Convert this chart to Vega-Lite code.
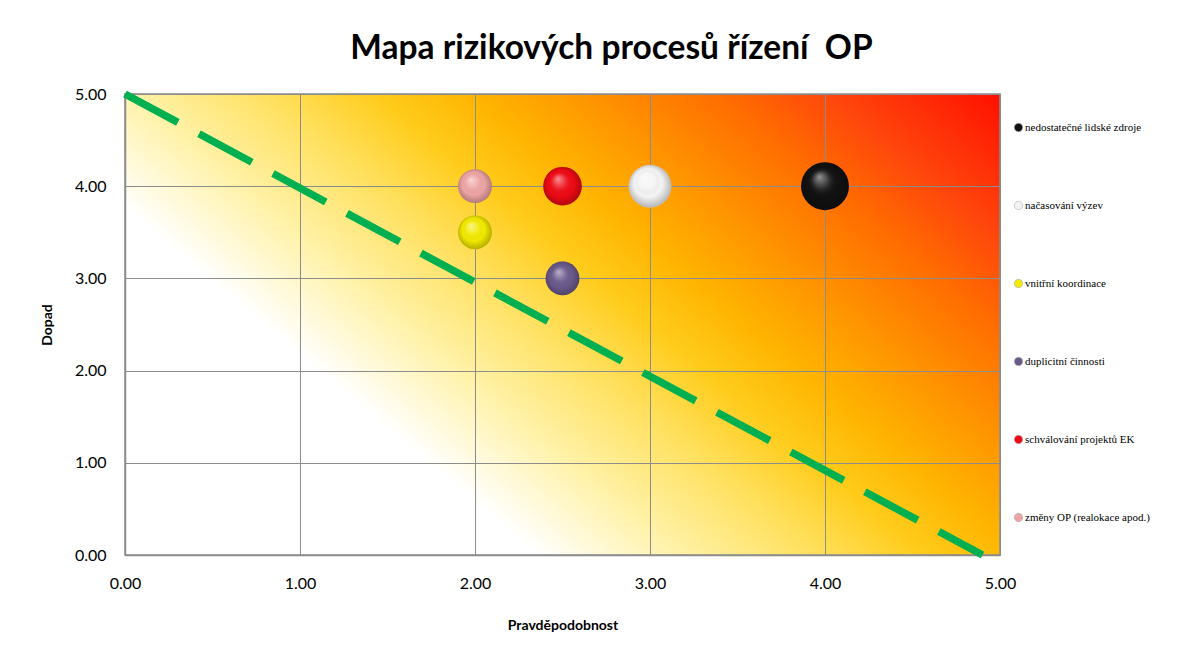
{
  "$schema": "https://vega.github.io/schema/vega-lite/v6.json",
  "width": 875,
  "height": 461,
  "padding": {"left": 40, "top": 31, "right": 0, "bottom": 0},
  "background": "white",
  "title": {
    "text": "Mapa rizikových procesů řízení\u00a0\u00a0OP",
    "font": "Lato",
    "fontSize": 33.5,
    "fontWeight": "bold",
    "color": "#000000",
    "anchor": "middle",
    "dx": 49,
    "offset": 13
  },
  "view": {
    "stroke": "#8c8c8c",
    "strokeWidth": 1.5,
    "fill": {
      "gradient": "linear",
      "x1": 0, "y1": 1, "x2": 1.168, "y2": 0.267,
      "stops": [
        {"offset": 0, "color": "#ffffff"},
        {"offset": 0.29, "color": "#ffffff"},
        {"offset": 0.39, "color": "#fff2a8"},
        {"offset": 0.49, "color": "#ffdf5a"},
        {"offset": 0.56, "color": "#ffcc1c"},
        {"offset": 0.63, "color": "#ffb400"},
        {"offset": 0.7, "color": "#ff9800"},
        {"offset": 0.8, "color": "#ff6e00"},
        {"offset": 0.88, "color": "#ff460c"},
        {"offset": 1, "color": "#ff1000"}
      ]
    }
  },
  "datasets": {
    "rizika": [
      {"proces": "nedostatečné lidské zdroje", "pravdepodobnost": 4.0, "dopad": 4.0, "velikost": 10},
      {"proces": "načasování výzev", "pravdepodobnost": 3.0, "dopad": 4.0, "velikost": 8},
      {"proces": "vnitřní koordinace", "pravdepodobnost": 2.0, "dopad": 3.5, "velikost": 5},
      {"proces": "duplicitní činnosti", "pravdepodobnost": 2.5, "dopad": 3.0, "velikost": 5},
      {"proces": "schválování projektů EK", "pravdepodobnost": 2.5, "dopad": 4.0, "velikost": 6.5},
      {"proces": "změny OP (realokace apod.)", "pravdepodobnost": 2.0, "dopad": 4.0, "velikost": 5}
    ],
    "hranice": [
      {"pravdepodobnost": 0, "dopad": 5},
      {"pravdepodobnost": 4.9, "dopad": 0}
    ]
  },
  "encoding": {
    "x": {
      "field": "pravdepodobnost",
      "type": "quantitative",
      "scale": {"domain": [0, 5], "nice": false, "zero": false},
      "axis": {"title": "Pravděpodobnost", "values": [0, 1, 2, 3, 4, 5], "labelPadding": 20, "titlePadding": 27, "labelFlush": false}
    },
    "y": {
      "field": "dopad",
      "type": "quantitative",
      "scale": {"domain": [0, 5], "nice": false, "zero": false},
      "axis": {"title": "Dopad", "values": [0, 1, 2, 3, 4, 5], "labelPadding": 19, "titlePadding": 20, "labelFlush": false}
    }
  },
  "layer": [
    {
      "data": {"name": "hranice"},
      "mark": {"type": "line", "color": "#00b050", "strokeWidth": 7.5, "strokeDash": [60, 24], "strokeCap": "butt"},
      "encoding": {}
    },
    {
      "data": {"name": "rizika"},
      "mark": {"type": "circle", "opacity": 1, "stroke": null},
      "encoding": {
        "size": {"field": "velikost", "type": "quantitative", "scale": {"domain": [0, 10], "range": [0, 2290], "zero": true}, "legend": null},
        "color": {
          "field": "proces",
          "type": "nominal",
          "scale": {
            "domain": ["nedostatečné lidské zdroje", "načasování výzev", "vnitřní koordinace", "duplicitní činnosti", "schválování projektů EK", "změny OP (realokace apod.)"],
            "range": ["#111111", "#f4f4f4", "#f2ea00", "#6a5a8c", "#ee0a14", "#eea4a4"]
          },
          "legend": {
            "title": null,
            "orient": "none",
            "legendX": 888,
            "legendY": 28,
            "symbolType": "circle",
            "symbolSize": 70,
            "symbolStrokeColor": "#aaaaaa",
            "symbolStrokeWidth": 0.6,
            "rowPadding": 66,
            "labelFont": "Liberation Serif",
            "labelFontSize": 11,
            "labelColor": "#000000",
            "labelOffset": 1,
            "labelLimit": 300
          }
        }
      }
    },
    {
      "data": {"name": "rizika"},
      "mark": {
        "type": "circle",
        "opacity": 1,
        "fill": {
          "gradient": "radial",
          "x1": 0.38, "y1": 0.3, "r1": 0,
          "x2": 0.5, "y2": 0.5, "r2": 0.55,
          "stops": [
            {"offset": 0, "color": "rgba(255,255,255,0.55)"},
            {"offset": 0.35, "color": "rgba(255,255,255,0.1)"},
            {"offset": 0.6, "color": "rgba(0,0,0,0)"},
            {"offset": 1, "color": "rgba(0,0,0,0.3)"}
          ]
        }
      },
      "encoding": {
        "size": {"field": "velikost", "type": "quantitative", "scale": {"domain": [0, 10], "range": [0, 2290], "zero": true}, "legend": null}
      }
    }
  ],
  "config": {
    "axis": {
      "format": ".2f",
      "labelFont": "Lato",
      "labelFontSize": 16,
      "labelColor": "#000000",
      "titleFont": "Lato",
      "titleFontSize": 14,
      "titleFontWeight": "bold",
      "titleColor": "#000000",
      "ticks": false,
      "domainColor": "#8c8c8c",
      "domainWidth": 1.5,
      "gridColor": "#8c8c8c",
      "gridWidth": 1,
      "gridOpacity": 1
    }
  }
}
